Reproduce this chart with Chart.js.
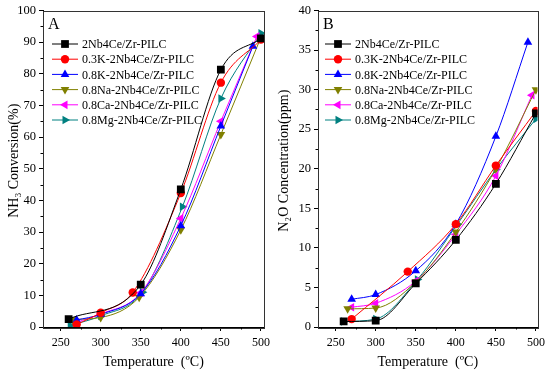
<!DOCTYPE html>
<html>
<head>
<meta charset="utf-8">
<script src="https://cdn.jsdelivr.net/npm/chart.js@4.4.0/dist/chart.umd.min.js"></script>
<style>
  html, body { margin: 0; padding: 0; background: #fff; }
  #wrap { position: relative; width: 550px; height: 371px; }
  .panel { position: absolute; top: 0; width: 275px; height: 371px; }
</style>
</head>
<body>
<div id="wrap">
  <div class="panel" style="left:0"><canvas id="chartA" width="275" height="371"></canvas></div>
  <div class="panel" style="left:275px"><canvas id="chartB" width="275" height="371"></canvas></div>
</div>
<script>
// series shared by both panels
const seriesNames = [
  '2Nb4Ce/Zr-PILC',
  '0.3K-2Nb4Ce/Zr-PILC',
  '0.8K-2Nb4Ce/Zr-PILC',
  '0.8Na-2Nb4Ce/Zr-PILC',
  '0.8Ca-2Nb4Ce/Zr-PILC',
  '0.8Mg-2Nb4Ce/Zr-PILC'
];
const seriesColors = ['#000000', '#ff0000', '#0000ff', '#808000', '#ff00ff', '#008080'];
const pointStyles = ['rect', 'circle', 'triangle', 'triangle', 'triangle', 'triangle'];
const pointRotations = [0, 0, 0, 180, 270, 90];
const pointSizes = [5.5, 4.2, 5, 5, 5, 5];

// Panel A - NH3 conversion (%)
const tempsA = [
  [260, 350, 400, 450, 500],
  [270, 300, 340, 400, 450, 500],
  [270, 300, 350, 400, 450, 490],
  [265, 300, 348, 400, 450, 500],
  [270, 300, 350, 400, 450, 495],
  [262, 300, 352, 402, 450, 500]
];
const conversionA = [
  [2.5, 13.4, 43.5, 81.3, 91.2],
  [0.8, 4.5, 10.9, 42.3, 77.2, 90.8],
  [2.2, 4.0, 10.5, 32.0, 63.5, 88.7],
  [2.4, 3.0, 9.4, 30.7, 60.8, 91.5],
  [1.5, 4.1, 10.8, 34.3, 65.0, 91.8],
  [0.5, 3.5, 11.0, 38.0, 72.2, 92.8]
];
const yTicksA = [0, 10, 20, 30, 40, 50, 60, 70, 80, 90, 100];

// Panel B - N2O concentration (ppm)
const tempsB = [
  [260, 300, 350, 400, 450, 500],
  [270, 340, 400, 450, 500],
  [270, 300, 350, 400, 450, 490],
  [265, 300, 350, 400, 450, 500],
  [270, 300, 350, 400, 450, 495],
  [260, 300, 352, 402, 450, 500]
];
const concentrationB = [
  [0.7, 0.8, 5.5, 11.0, 18.1, 27.0],
  [1.0, 7.0, 13.0, 20.4, 27.3],
  [3.5, 4.1, 7.1, 13.0, 24.1, 36.0],
  [2.3, 2.4, 5.7, 12.0, 20.0, 30.0],
  [2.5, 3.0, 5.8, 11.7, 19.1, 29.3],
  [0.7, 1.0, 6.0, 13.0, 19.9, 26.3]
];
const yTicksB = [0, 5, 10, 15, 20, 25, 30, 35, 40];

const xTicks = [250, 300, 350, 400, 450, 500];
const xTitle = 'Temperature  (ºC)';

const serif = '"Liberation Serif", "Times New Roman", serif';

function makeDatasets(temps, values) {
  return seriesNames.map((name, i) => ({
    label: name,
    data: temps[i].map((t, j) => ({ x: t, y: values[i][j] })),
    borderColor: seriesColors[i],
    backgroundColor: seriesColors[i],
    borderWidth: 1,
    pointStyle: pointStyles[i],
    rotation: pointRotations[i],
    pointRadius: pointSizes[i],
    pointBorderWidth: 0,
    cubicInterpolationMode: 'monotone',
    tension: 0.4
  }));
}

// frame, minor ticks, axis titles, panel letter and line+marker legend
const decorPlugin = {
  id: 'decor',
  afterDraw(chart, args, opts) {
    const { ctx, chartArea: a, scales } = chart;
    ctx.save();
    ctx.strokeStyle = '#333';
    ctx.lineWidth = 1;
    ctx.strokeRect(Math.round(a.left) + 0.5, Math.round(a.top) + 0.5,
      Math.round(a.right - a.left), Math.round(a.bottom - a.top));

    // minor ticks
    ctx.strokeStyle = '#000';
    ctx.beginPath();
    for (let k = 0; k < xTicks.length; k++) {
      const v = xTicks[k] + 25;
      if (v > scales.x.max) continue;
      const px = Math.round(scales.x.getPixelForValue(v)) + 0.5;
      ctx.moveTo(px, a.bottom);
      ctx.lineTo(px, a.bottom + 2.5);
    }
    const yt = opts.yTicks;
    for (let k = 0; k < yt.length - 1; k++) {
      const v = (yt[k] + yt[k + 1]) / 2;
      const py = Math.round(scales.y.getPixelForValue(v)) + 0.5;
      ctx.moveTo(a.left, py);
      ctx.lineTo(a.left - 2.5, py);
    }
    ctx.stroke();

    // axis titles
    ctx.fillStyle = '#000';
    ctx.font = '14px ' + serif;
    ctx.textAlign = 'center';
    ctx.textBaseline = 'middle';
    ctx.fillText(xTitle, (a.left + a.right) / 2, 362);
    ctx.save();
    ctx.translate(opts.yTitleX, (a.top + a.bottom) / 2 - 8);
    ctx.rotate(-Math.PI / 2);
    ctx.fillText(opts.yTitle, 0, 0);
    ctx.restore();

    ctx.textAlign = 'left';
    ctx.font = '16px ' + serif;
    ctx.textBaseline = 'alphabetic';
    ctx.fillText(opts.letter, a.left + 5, a.top + 18);

    // legend
    ctx.font = '12px ' + serif;
    ctx.textBaseline = 'middle';
    chart.data.datasets.forEach((ds, i) => {
      const y = opts.legendY + i * 15.2;
      ctx.strokeStyle = ds.borderColor;
      ctx.lineWidth = 1;
      ctx.beginPath();
      ctx.moveTo(opts.legendX, y);
      ctx.lineTo(opts.legendX + 26, y);
      ctx.stroke();
      ctx.fillStyle = ds.backgroundColor;
      Chart.helpers.drawPoint(ctx, {
        pointStyle: ds.pointStyle, radius: ds.pointRadius, rotation: ds.rotation, borderWidth: 0
      }, opts.legendX + 13, y);
      ctx.fillStyle = '#000';
      ctx.fillText(ds.label, opts.legendX + 30, y + 1);
    });
    ctx.restore();
  }
};

function makeChart(id, datasets, cfg) {
  return new Chart(document.getElementById(id), {
    type: 'line',
    data: { datasets: datasets },
    plugins: [decorPlugin],
    options: {
      responsive: false,
      animation: false,
      layout: { padding: { top: 7, right: cfg.padRight, left: 0, bottom: 0 } },
      plugins: {
        legend: { display: false },
        tooltip: { enabled: false },
        decor: {
          letter: cfg.letter, legendX: cfg.legendX, legendY: 44, yTicks: cfg.yTicks,
          yTitle: cfg.yTitle, yTitleX: cfg.yTitleX
        }
      },
      scales: {
        x: {
          type: 'linear',
          min: cfg.xMin,
          max: cfg.xMax,
          afterBuildTicks: s => { s.ticks = xTicks.map(v => ({ value: v })); },
          afterFit: s => { s.height = 44; },
          grid: { drawOnChartArea: false, drawTicks: true, tickLength: 4, color: '#000' },
          border: { color: '#000' },
          ticks: { color: '#000', font: { family: serif, size: 12 }, padding: 5, maxRotation: 0 }
        },
        y: {
          min: 0,
          max: cfg.yMax,
          afterBuildTicks: s => { s.ticks = cfg.yTicks.map(v => ({ value: v })); },
          afterFit: s => { s.width = 43; },
          grid: { drawOnChartArea: false, drawTicks: true, tickLength: 4, color: '#000' },
          border: { color: '#000' },
          ticks: { color: '#000', font: { family: serif, size: 12.5 }, padding: 3 }
        }
      }
    }
  });
}

makeChart('chartA', makeDatasets(tempsA, conversionA), {
  letter: 'A', legendX: 52, padRight: 5, xMin: 228, xMax: 504, yMax: 100,
  yTicks: yTicksA, yTitle: 'NH₃ Conversion(%)', yTitleX: 14
});
makeChart('chartB', makeDatasets(tempsB, concentrationB), {
  letter: 'B', legendX: 50, padRight: 7, xMin: 228, xMax: 502, yMax: 40,
  yTicks: yTicksB, yTitle: 'N₂O Concentration(ppm)', yTitleX: 9
});
</script>
</body>
</html>
